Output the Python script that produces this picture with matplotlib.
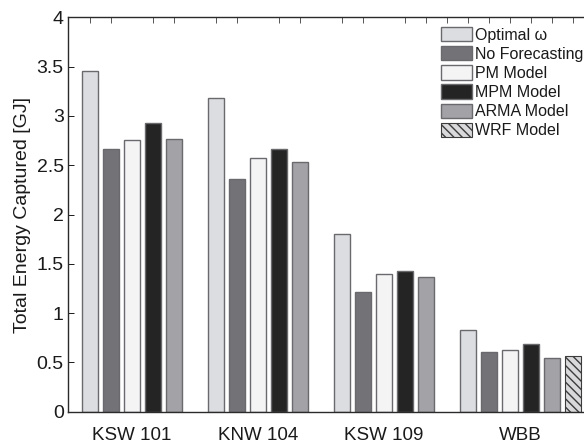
import numpy as np
import matplotlib
matplotlib.use("Agg")
import matplotlib.pyplot as plt

plt.rcParams['font.family'] = ['Liberation Sans', 'DejaVu Sans']

sites = ['KSW 101', 'KNW 104', 'KSW 109', 'WBB']
series = ['Optimal ω', 'No Forecasting', 'PM Model', 'MPM Model', 'ARMA Model', 'WRF Model']

optimal = [3.46, 3.18, 1.80, 0.83]
no_forecast = [2.66, 2.36, 1.21, 0.61]
pm_model = [2.76, 2.57, 1.40, 0.63]
mpm_model = [2.93, 2.67, 1.43, 0.69]
arma_model = [2.77, 2.53, 1.37, 0.54]
wrf_model = [np.nan, np.nan, np.nan, 0.565]

values = [optimal, no_forecast, pm_model, mpm_model, arma_model, wrf_model]
colors = ['#dcdde0', '#727277', '#f4f4f5', '#242424', '#a3a3a7', '#d9d9db']

fig = plt.figure(figsize=(5.84, 4.43), dpi=100)
ax = fig.add_axes([0.1164, 0.0707, 0.9025, 0.890])

n = len(series)
for k, (vals, c, name) in enumerate(zip(values, colors, series)):
    x = np.arange(len(sites)) * n + k
    if name == 'WRF Model':
        ax.bar(x, vals, width=0.8, color=c, edgecolor='#3c3c3c', linewidth=0.8,
               hatch='\\\\\\\\', label=name)
    else:
        ax.bar(x, vals, width=0.8, color=c, edgecolor='#6a6a6e', linewidth=1.0,
               label=name)

ax.set_xlim(-1.05, 24.05)
ax.set_ylim(0, 4)
ax.set_yticks(np.arange(0, 4.01, 0.5))
ax.set_yticklabels(['%g' % v for v in np.arange(0, 4.01, 0.5)])

# group labels under the bars
ax.set_xticks([2, 8, 14, 20.5])
ax.set_xticklabels(sites)
ax.tick_params(axis='x', which='major', length=0, pad=11, labelsize=13.5, colors='#1a1a1a')

# small ticks along the top edge
minor = [s for s in range(24) if s not in (5, 11)]
ax.set_xticks(minor, minor=True)
ax.tick_params(axis='x', which='minor', direction='in', top=True, bottom=False, length=4,
               width=0.7, color='#555555')
ax.tick_params(axis='y', direction='in', right=True, length=4, width=0.7, labelsize=14,
               colors='#1a1a1a', pad=3)

for s in ax.spines.values():
    s.set_linewidth(1.0)
    s.set_color('#2a2a2a')

ax.set_ylabel('Total Energy Captured [GJ]', fontsize=14, color='#1a1a1a')
ax.yaxis.set_label_coords(-0.071, 0.5)

fig.legend(loc='upper left', bbox_to_anchor=(0.7546, 0.939), frameon=False,
           fontsize=11.5, handlelength=1.95, handleheight=1.0, handletextpad=0.2,
           labelspacing=0.22, borderpad=0, borderaxespad=0, labelcolor='#1a1a1a')

fig.savefig('out.png', dpi=100)
